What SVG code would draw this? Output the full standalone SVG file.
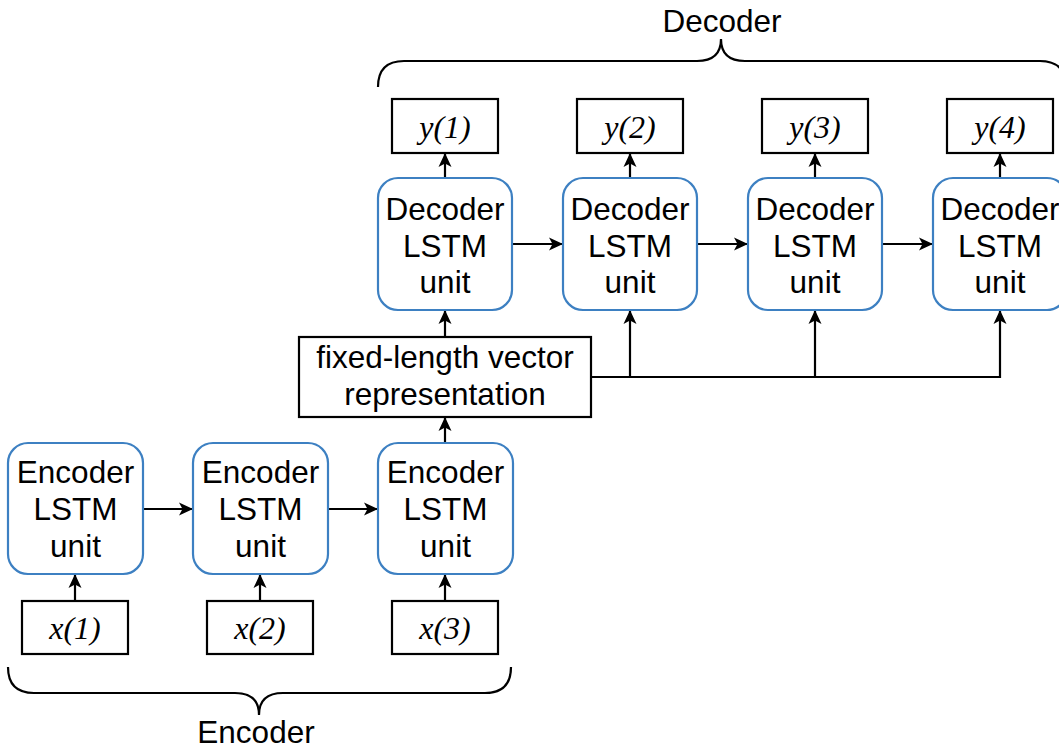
<svg xmlns="http://www.w3.org/2000/svg" width="1059" height="749" viewBox="0 0 1059 749">
<style>
.unit{fill:#fff;stroke:#3d80c2;stroke-width:2.2}
.box{fill:#fff;stroke:#000;stroke-width:2.2}
.t{font-family:"Liberation Sans",Arial,sans-serif;font-size:31.5px;fill:#000;text-anchor:middle}
.v{font-family:"Liberation Serif","Times New Roman",serif;font-style:italic;font-size:32px;fill:#000;text-anchor:middle}
.c{fill:none;stroke:#000;stroke-width:2.2}
</style>
<defs>
<marker id="ah" viewBox="0 0 14 14" refX="13" refY="7" markerWidth="14" markerHeight="14" markerUnits="userSpaceOnUse" orient="auto">
<path d="M0,0.5 L14,7 L0,13.5 L3.5,7 Z" fill="#000"/>
</marker>
</defs>
<g id="connectors">
<path class="c" d="M75,601 V575" marker-end="url(#ah)"/>
<path class="c" d="M260,601 V575" marker-end="url(#ah)"/>
<path class="c" d="M445,601 V575" marker-end="url(#ah)"/>
<path class="c" d="M143,509 H192" marker-end="url(#ah)"/>
<path class="c" d="M328,509 H377" marker-end="url(#ah)"/>
<path class="c" d="M445,443 V418" marker-end="url(#ah)"/>
<path class="c" d="M445,337 V311" marker-end="url(#ah)"/>
<path class="c" d="M591,377 H1000 V311" marker-end="url(#ah)"/>
<path class="c" d="M630,377 V311" marker-end="url(#ah)"/>
<path class="c" d="M815,377 V311" marker-end="url(#ah)"/>
<path class="c" d="M512,244 H562" marker-end="url(#ah)"/>
<path class="c" d="M697,244 H747" marker-end="url(#ah)"/>
<path class="c" d="M882,244 H932" marker-end="url(#ah)"/>
<path class="c" d="M445,178 V154" marker-end="url(#ah)"/>
<path class="c" d="M630,178 V154" marker-end="url(#ah)"/>
<path class="c" d="M815,178 V154" marker-end="url(#ah)"/>
<path class="c" d="M1000,178 V154" marker-end="url(#ah)"/>
</g>
<g id="brace-decoder">
<path class="c" d="M378,87 Q378,61 404,61 L697,61 Q721,61 721,39 Q721,61 745,61 L1040,61 Q1066,61 1066,87"/>
<text class="t" x="722" y="32">Decoder</text>
</g>
<g id="brace-encoder">
<path class="c" d="M8,667 Q8,693 34,693 L235,693 Q259,693 259,715 Q259,693 283,693 L485,693 Q511,693 511,667"/>
<text class="t" x="256" y="743">Encoder</text>
</g>
<g id="enc1"><rect class="unit" x="8" y="443" width="135" height="131" rx="20"/><text class="t" x="75.5" y="483">Encoder</text><text class="t" x="75.5" y="520">LSTM</text><text class="t" x="75.5" y="557">unit</text></g>
<g id="enc2"><rect class="unit" x="193" y="443" width="135" height="131" rx="20"/><text class="t" x="260.5" y="483">Encoder</text><text class="t" x="260.5" y="520">LSTM</text><text class="t" x="260.5" y="557">unit</text></g>
<g id="enc3"><rect class="unit" x="378" y="443" width="135" height="131" rx="20"/><text class="t" x="445.5" y="483">Encoder</text><text class="t" x="445.5" y="520">LSTM</text><text class="t" x="445.5" y="557">unit</text></g>
<g id="x1"><rect class="box" x="22" y="601" width="106" height="53"/><text class="v" x="75" y="639">x(1)</text></g>
<g id="x2"><rect class="box" x="207" y="601" width="106" height="53"/><text class="v" x="260" y="639">x(2)</text></g>
<g id="x3"><rect class="box" x="392" y="601" width="106" height="53"/><text class="v" x="445" y="639">x(3)</text></g>
<g id="fixed"><rect class="box" x="299" y="337" width="292" height="80"/><text class="t" x="445" y="368">fixed-length vector</text><text class="t" x="445" y="405">representation</text></g>
<g id="dec1"><rect class="unit" x="378" y="178" width="134" height="132" rx="20"/><text class="t" x="445" y="220">Decoder</text><text class="t" x="445" y="257">LSTM</text><text class="t" x="445" y="293">unit</text></g>
<g id="dec2"><rect class="unit" x="563" y="178" width="134" height="132" rx="20"/><text class="t" x="630" y="220">Decoder</text><text class="t" x="630" y="257">LSTM</text><text class="t" x="630" y="293">unit</text></g>
<g id="dec3"><rect class="unit" x="748" y="178" width="134" height="132" rx="20"/><text class="t" x="815" y="220">Decoder</text><text class="t" x="815" y="257">LSTM</text><text class="t" x="815" y="293">unit</text></g>
<g id="dec4"><rect class="unit" x="933" y="178" width="134" height="132" rx="20"/><text class="t" x="1000" y="220">Decoder</text><text class="t" x="1000" y="257">LSTM</text><text class="t" x="1000" y="293">unit</text></g>
<g id="y1"><rect class="box" x="392" y="99" width="106" height="54"/><text class="v" x="445" y="138">y(1)</text></g>
<g id="y2"><rect class="box" x="577" y="99" width="106" height="54"/><text class="v" x="630" y="138">y(2)</text></g>
<g id="y3"><rect class="box" x="762" y="99" width="106" height="54"/><text class="v" x="815" y="138">y(3)</text></g>
<g id="y4"><rect class="box" x="947" y="99" width="106" height="54"/><text class="v" x="1000" y="138">y(4)</text></g>
</svg>
